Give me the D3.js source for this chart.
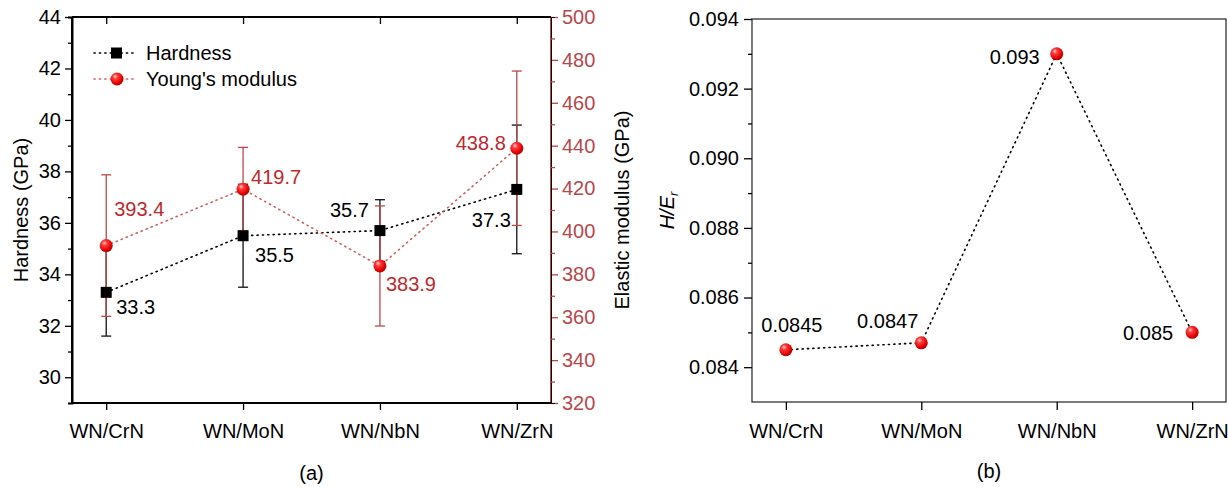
<!DOCTYPE html>
<html>
<head>
<meta charset="utf-8">
<script src="https://cdn.jsdelivr.net/npm/d3@7"></script>
<style>
body { margin: 0; background: #fff; font-family: Arial, "Liberation Sans", sans-serif; }
svg text { font-family: Arial, "Liberation Sans", sans-serif; }
</style>
</head>
<body>
<div id="chart"></div>
<script>
var categories = ["WN/CrN", "WN/MoN", "WN/NbN", "WN/ZrN"];
var hardness = [33.3, 35.5, 35.7, 37.3];
var hardnessErr = [1.7, 2.0, 1.2, 2.5];
var modulus = [393.4, 419.7, 383.9, 438.8];
var modulusErr = [33, 19.5, 28, 36];
var ratio = [0.0845, 0.0847, 0.093, 0.085];
var ratioLabels = ["0.0845", "0.0847", "0.093", "0.085"];

var hardTicks = [30, 32, 34, 36, 38, 40, 42, 44];
var modTicks = [320, 340, 360, 380, 400, 420, 440, 460, 480, 500];
var ratioTicks = [0.084, 0.086, 0.088, 0.090, 0.092, 0.094];

var W = 1228, H = 487;
var FS = 20;
var redText = "#c0282d";
var redAxis = "#b8474d";

var svg = d3.select("#chart").append("svg").attr("width", W).attr("height", H);

// 球形标记的渐变
var defs = svg.append("defs");
var grad = defs.append("radialGradient").attr("id", "ball")
	.attr("cx", "40%").attr("cy", "35%").attr("r", "65%").attr("fx", "35%").attr("fy", "30%");
grad.append("stop").attr("offset", "0%").attr("stop-color", "#ffd0d0");
grad.append("stop").attr("offset", "30%").attr("stop-color", "#ff3a3a");
grad.append("stop").attr("offset", "80%").attr("stop-color", "#e00000");
grad.append("stop").attr("offset", "100%").attr("stop-color", "#b00000");

var dotted = "1.2,4.2";

// ---------- (a) ----------
var a = { left: 72, right: 551, top: 17, bottom: 403 };
var xa = d3.scaleLinear().domain([0.75, 4.25]).range([a.left, a.right]);
var yH = d3.scaleLinear().domain([29, 44]).range([a.bottom, a.top]);
var yE = d3.scaleLinear().domain([320, 500]).range([a.bottom, a.top]);

var ga = svg.append("g");

// 左轴
var leftAxis = ga.append("g").attr("transform", `translate(${a.left},0)`)
	.call(d3.axisLeft(yH).tickValues(hardTicks).tickSize(7).tickPadding(4));
leftAxis.append("g").call(d3.axisLeft(yH).tickValues(d3.range(31, 44, 2)).tickSize(4).tickFormat(""));
// 右轴
var rightAxis = ga.append("g").attr("transform", `translate(${a.right},0)`)
	.call(d3.axisRight(yE).tickValues(modTicks).tickSize(7).tickPadding(4));
rightAxis.append("g").call(d3.axisRight(yE).tickValues(d3.range(330, 500, 20)).tickSize(4).tickFormat(""));
// 下轴
var bottomAxis = ga.append("g").attr("transform", `translate(0,${a.bottom})`)
	.call(d3.axisBottom(xa).tickValues([1, 2, 3, 4]).tickSize(7).tickPadding(14).tickFormat((d) => categories[d - 1]));
// 上轴
var topAxis = ga.append("g").attr("transform", `translate(0,${a.top})`)
	.call(d3.axisBottom(xa).tickValues([1, 2, 3, 4]).tickSize(7).tickFormat(""));

[leftAxis, bottomAxis, topAxis].forEach(function(ax) {
	ax.selectAll(".domain").attr("stroke", "#000").attr("stroke-width", 2);
	ax.selectAll("line").attr("stroke", "#000").attr("stroke-width", 1.3);
	ax.selectAll("text").attr("font-size", FS).attr("fill", "#000");
});
topAxis.select(".domain").attr("d", `M${a.left},0H${a.right}`);
bottomAxis.select(".domain").attr("d", `M${a.left},0H${a.right}`);
leftAxis.select(".domain").attr("d", `M0,${a.top}V${a.bottom}`);
rightAxis.select(".domain").attr("d", `M0,${a.top}V${a.bottom}`)
	.attr("stroke", redAxis).attr("stroke-width", 2);
rightAxis.selectAll("line").attr("stroke", redAxis).attr("stroke-width", 1.3);
rightAxis.selectAll("text").attr("font-size", FS).attr("fill", redAxis);

ga.append("text").attr("transform", `translate(28,${(a.top + a.bottom) / 2}) rotate(-90)`)
	.attr("text-anchor", "middle").attr("font-size", FS).text("Hardness (GPa)");
ga.append("text").attr("transform", `translate(629,${(a.top + a.bottom) / 2}) rotate(-90)`)
	.attr("text-anchor", "middle").attr("font-size", FS).text("Elastic modulus (GPa)");
ga.append("text").attr("x", (a.left + a.right) / 2).attr("y", 480)
	.attr("text-anchor", "middle").attr("font-size", FS).text("(a)");

var idx = [0, 1, 2, 3];

// 虚线
ga.append("path").datum(idx)
	.attr("d", d3.line().x((i) => xa(i + 1)).y((i) => yH(hardness[i])))
	.attr("fill", "none").attr("stroke", "#000").attr("stroke-width", 1.6)
	.attr("stroke-dasharray", dotted).attr("stroke-linecap", "round");
ga.append("path").datum(idx)
	.attr("d", d3.line().x((i) => xa(i + 1)).y((i) => yE(modulus[i])))
	.attr("fill", "none").attr("stroke", "#d06060").attr("stroke-width", 1.6)
	.attr("stroke-dasharray", dotted).attr("stroke-linecap", "round");

// 误差棒
function errBars(g, vals, errs, y, color) {
	var eb = g.append("g").selectAll("g").data(idx).join("g").attr("stroke", color).attr("stroke-width", 1.3);
	eb.append("line").attr("x1", (i) => xa(i + 1)).attr("x2", (i) => xa(i + 1))
		.attr("y1", (i) => y(vals[i] - errs[i])).attr("y2", (i) => y(vals[i] + errs[i]));
	eb.append("line").attr("x1", (i) => xa(i + 1) - 5).attr("x2", (i) => xa(i + 1) + 5)
		.attr("y1", (i) => y(vals[i] - errs[i])).attr("y2", (i) => y(vals[i] - errs[i]));
	eb.append("line").attr("x1", (i) => xa(i + 1) - 5).attr("x2", (i) => xa(i + 1) + 5)
		.attr("y1", (i) => y(vals[i] + errs[i])).attr("y2", (i) => y(vals[i] + errs[i]));
}
errBars(ga, hardness, hardnessErr, yH, "#111");
errBars(ga, modulus, modulusErr, yE, "#b84a4a");

// 标记
ga.append("g").selectAll("rect").data(idx).join("rect")
	.attr("x", (i) => xa(i + 1) - 5.5).attr("y", (i) => yH(hardness[i]) - 5.5)
	.attr("width", 11).attr("height", 11).attr("fill", "#000");
ga.append("g").selectAll("circle").data(idx).join("circle")
	.attr("cx", (i) => xa(i + 1)).attr("cy", (i) => yE(modulus[i]))
	.attr("r", 6.5).attr("fill", "url(#ball)");

// 数值标签
var hOff = [[10, 22, "start"], [12, 26, "start"], [-11, -14, "end"], [-6, 38, "end"]];
var eOff = [[8, -30, "start"], [8, -5, "start"], [6, 25, "start"], [-11, 2, "end"]];
ga.append("g").selectAll("text").data(idx).join("text")
	.attr("x", (i) => xa(i + 1) + hOff[i][0]).attr("y", (i) => yH(hardness[i]) + hOff[i][1])
	.attr("text-anchor", (i) => hOff[i][2]).attr("font-size", FS).attr("fill", "#000")
	.text((i) => hardness[i].toFixed(1));
ga.append("g").selectAll("text").data(idx).join("text")
	.attr("x", (i) => xa(i + 1) + eOff[i][0]).attr("y", (i) => yE(modulus[i]) + eOff[i][1])
	.attr("text-anchor", (i) => eOff[i][2]).attr("font-size", FS).attr("fill", redText)
	.text((i) => modulus[i].toFixed(1));

// 图例
var lg = ga.append("g");
[["Hardness", 53], ["Young's modulus", 79]].forEach(function(it, k) {
	var yy = it[1];
	lg.append("line").attr("x1", 94).attr("x2", 137).attr("y1", yy).attr("y2", yy)
		.attr("stroke", k == 0 ? "#000" : "#d06060").attr("stroke-width", 1.6)
		.attr("stroke-dasharray", dotted).attr("stroke-linecap", "round");
	if (k == 0)
		lg.append("rect").attr("x", 111).attr("y", yy - 5.5).attr("width", 11).attr("height", 11).attr("fill", "#000");
	else
		lg.append("circle").attr("cx", 117).attr("cy", yy).attr("r", 6.5).attr("fill", "url(#ball)");
	lg.append("text").attr("x", 146).attr("y", yy + 7).attr("font-size", FS).text(it[0]);
});

// ---------- (b) ----------
var b = { left: 752, right: 1226, top: 19, bottom: 402 };
var xb = d3.scaleLinear().domain([0.75, 4.25]).range([b.left, b.right]);
var yR = d3.scaleLinear().domain([0.083, 0.094]).range([b.bottom, b.top]);

var gb = svg.append("g");
gb.append("rect").attr("x", b.left).attr("y", b.top).attr("width", b.right - b.left).attr("height", b.bottom - b.top)
	.attr("fill", "none").attr("stroke", "#333").attr("stroke-width", 1.3);

var lb = gb.append("g").attr("transform", `translate(${b.left},0)`)
	.call(d3.axisLeft(yR).tickValues(ratioTicks).tickSize(8).tickPadding(5).tickFormat(d3.format(".3f")));
lb.append("g").call(d3.axisLeft(yR).tickValues([0.085, 0.087, 0.089, 0.091, 0.093]).tickSize(4).tickFormat(""));
var bb = gb.append("g").attr("transform", `translate(0,${b.bottom})`)
	.call(d3.axisBottom(xb).tickValues([1, 2, 3, 4]).tickSize(8).tickPadding(14).tickFormat((d) => categories[d - 1]));
[lb, bb].forEach(function(ax) {
	ax.selectAll(".domain").remove();
	ax.selectAll("line").attr("stroke", "#000").attr("stroke-width", 1.3);
	ax.selectAll("text").attr("font-size", FS).attr("fill", "#000");
});

var yl = gb.append("text").attr("transform", `translate(674,${(b.top + b.bottom) / 2}) rotate(-90)`)
	.attr("text-anchor", "middle").attr("font-size", FS).attr("font-style", "italic");
yl.append("tspan").text("H/E");
yl.append("tspan").attr("font-size", 13).attr("dy", 4).text("r");
gb.append("text").attr("x", (b.left + b.right) / 2).attr("y", 478)
	.attr("text-anchor", "middle").attr("font-size", FS).text("(b)");

gb.append("path").datum(idx)
	.attr("d", d3.line().x((i) => xb(i + 1)).y((i) => yR(ratio[i])))
	.attr("fill", "none").attr("stroke", "#000").attr("stroke-width", 1.6)
	.attr("stroke-dasharray", dotted).attr("stroke-linecap", "round");
gb.append("g").selectAll("circle").data(idx).join("circle")
	.attr("cx", (i) => xb(i + 1)).attr("cy", (i) => yR(ratio[i]))
	.attr("r", 6.5).attr("fill", "url(#ball)");

var rOff = [[6, -18, "middle"], [-3, -15, "end"], [-17, 10, "end"], [-19, 8, "end"]];
gb.append("g").selectAll("text").data(idx).join("text")
	.attr("x", (i) => xb(i + 1) + rOff[i][0]).attr("y", (i) => yR(ratio[i]) + rOff[i][1])
	.attr("text-anchor", (i) => rOff[i][2]).attr("font-size", FS).attr("fill", "#000")
	.text((i) => ratioLabels[i]);
</script>
</body>
</html>
